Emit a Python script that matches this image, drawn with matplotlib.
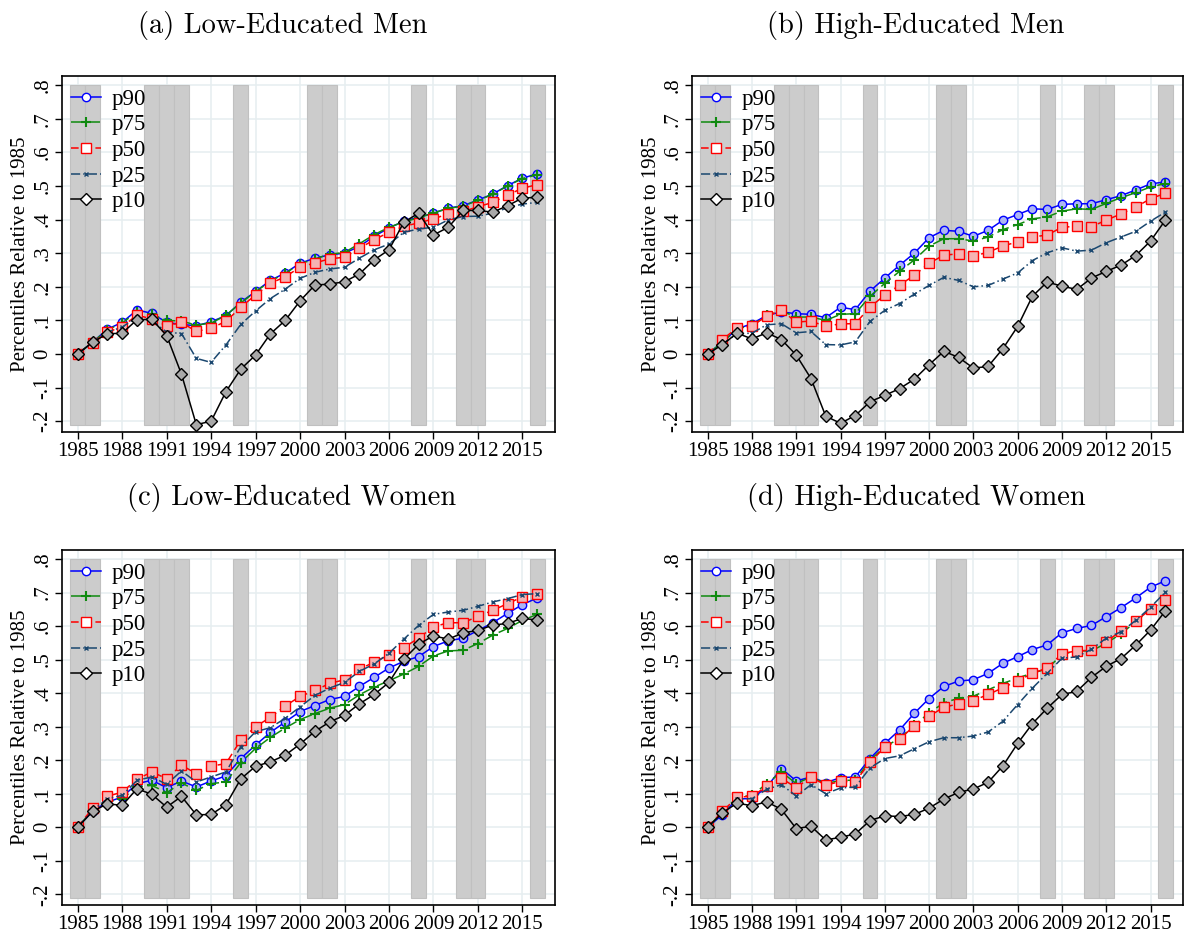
"""percentiles of log earnings relative to 1985, by education and gender"""
import numpy as np
import matplotlib
matplotlib.use("Agg")
import matplotlib.pyplot as plt
from matplotlib.lines import Line2D

plt.rcParams["font.family"] = ["Liberation Serif", "DejaVu Serif"]
plt.rcParams["axes.unicode_minus"] = False

years = np.arange(1985, 2017)
recession_years = [1985, 1986, 1990, 1991, 1992, 1996, 2001, 2002, 2008, 2011, 2012, 2016]

# (a) low-educated men
lm_p90 = [0, .035, .074, .094, .131, .121, .094, .088, .084, .096, .114, .154, .186, .219, .241, .270,
          .285, .295, .300, .320, .350, .375, .395, .407, .419, .434, .441, .458, .476, .501, .523, .536]
lm_p75 = [0, .035, .072, .092, .126, .118, .100, .098, .086, .092, .115, .152, .185, .217, .240, .268,
          .283, .297, .302, .328, .355, .377, .393, .405, .420, .433, .440, .457, .475, .500, .522, .533]
lm_p50 = [0, .033, .065, .081, .116, .104, .084, .094, .067, .077, .097, .139, .176, .210, .230, .258,
          .271, .283, .288, .314, .340, .362, .380, .390, .402, .417, .424, .438, .451, .473, .493, .504]
lm_p25 = [0, .035, .065, .080, .110, .100, .065, .061, -.013, -.025, .027, .088, .128, .165, .193, .225,
          .243, .253, .258, .285, .310, .327, .362, .372, .377, .399, .409, .410, .419, .435, .446, .451]
lm_p10 = [0, .035, .060, .062, .102, .103, .055, -.060, -.210, -.200, -.112, -.045, -.003, .060, .100, .158,
          .205, .208, .215, .238, .280, .310, .392, .419, .354, .377, .427, .427, .422, .441, .464, .466]

# (b) high-educated men
hm_p90 = [0, .035, .075, .090, .115, .125, .120, .118, .108, .139, .132, .187, .226, .264, .300, .346,
          .368, .365, .350, .368, .398, .415, .432, .430, .445, .447, .447, .459, .471, .488, .506, .512]
hm_p75 = [0, .035, .075, .085, .115, .128, .110, .110, .100, .118, .120, .172, .210, .246, .280, .321,
          .343, .343, .336, .348, .370, .385, .402, .408, .425, .432, .430, .448, .465, .480, .497, .507]
hm_p50 = [0, .043, .078, .083, .113, .130, .095, .098, .082, .090, .090, .140, .175, .205, .234, .270,
          .294, .298, .291, .303, .321, .334, .348, .354, .377, .380, .379, .398, .417, .437, .462, .478]
hm_p25 = [0, .030, .060, .062, .087, .090, .063, .067, .028, .027, .036, .097, .130, .150, .178, .204,
          .228, .219, .200, .204, .223, .241, .278, .301, .316, .306, .309, .331, .348, .365, .395, .422]
hm_p10 = [0, .028, .062, .045, .063, .043, -.003, -.073, -.185, -.206, -.183, -.142, -.123, -.103, -.075, -.032,
          .008, -.010, -.042, -.037, .016, .082, .172, .214, .202, .192, .226, .246, .264, .293, .336, .398]

# (c) low-educated women
lw_p90 = [0, .048, .075, .090, .130, .140, .118, .138, .120, .138, .153, .205, .245, .283, .314, .345,
          .363, .381, .390, .420, .447, .475, .495, .509, .539, .556, .564, .587, .610, .638, .664, .684]
lw_p75 = [0, .050, .075, .085, .120, .125, .103, .132, .110, .130, .135, .193, .235, .268, .296, .321,
          .339, .355, .366, .395, .418, .437, .457, .480, .511, .526, .528, .548, .573, .593, .617, .635]
lw_p50 = [0, .057, .092, .105, .143, .165, .145, .185, .160, .182, .190, .260, .300, .328, .362, .390,
          .408, .429, .440, .472, .492, .514, .536, .564, .598, .610, .610, .629, .647, .667, .687, .697]
lw_p25 = [0, .050, .085, .095, .140, .150, .128, .168, .135, .150, .165, .240, .285, .297, .325, .359,
          .393, .415, .432, .465, .487, .519, .561, .602, .635, .642, .647, .659, .672, .682, .694, .697]
lw_p10 = [0, .047, .070, .065, .115, .098, .060, .092, .037, .038, .067, .144, .182, .195, .215, .248,
          .286, .314, .334, .368, .396, .432, .501, .546, .571, .561, .580, .587, .603, .608, .623, .618]

# (d) high-educated women
hw_p90 = [0, .037, .085, .085, .120, .175, .138, .150, .133, .148, .150, .205, .250, .290, .340, .384,
          .420, .436, .440, .459, .489, .509, .530, .544, .580, .593, .602, .628, .655, .684, .716, .735]
hw_p75 = [0, .045, .090, .095, .130, .165, .130, .150, .130, .140, .140, .200, .240, .265, .304, .341,
          .371, .385, .391, .410, .429, .445, .460, .472, .516, .526, .526, .549, .577, .613, .650, .672]
hw_p50 = [0, .047, .090, .092, .122, .146, .118, .150, .125, .137, .135, .195, .238, .262, .303, .331,
          .358, .368, .378, .396, .416, .437, .459, .475, .518, .526, .528, .554, .585, .615, .650, .677]
hw_p25 = [0, .040, .085, .085, .113, .127, .093, .127, .100, .117, .120, .177, .205, .213, .234, .255,
          .267, .267, .272, .284, .316, .366, .415, .459, .504, .508, .531, .564, .583, .617, .656, .701]
hw_p10 = [0, .043, .072, .064, .076, .053, -.004, .003, -.038, -.030, -.020, .020, .034, .032, .038, .057,
          .084, .104, .114, .134, .183, .250, .309, .355, .396, .405, .447, .480, .503, .543, .588, .645]

panels = [
    ("(a) Low-Educated Men", [lm_p90, lm_p75, lm_p50, lm_p25, lm_p10]),
    ("(b) High-Educated Men", [hm_p90, hm_p75, hm_p50, hm_p25, hm_p10]),
    ("(c) Low-Educated Women", [lw_p90, lw_p75, lw_p50, lw_p25, lw_p10]),
    ("(d) High-Educated Women", [hw_p90, hw_p75, hw_p50, hw_p25, hw_p10]),
]
labels = ["p90", "p75", "p50", "p25", "p10"]

styles = [
    dict(color="#0000ff", ls="-", marker="o", ms=6, mfc="#adb5f5", mec="#0000ff", mew=1.0),
    dict(color="#108a10", ls=(0, (8, 3)), marker="+", ms=7, mfc="none", mec="#108a10", mew=1.5),
    dict(color="#ff0000", ls=(0, (5, 3)), marker="s", ms=6.5, mfc="#f5b3b3", mec="#ff0000", mew=1.0),
    dict(color="#1a476f", ls=(0, (6, 2, 1, 2)), marker="x", ms=3, mfc="none", mec="#1a476f", mew=1.0),
    dict(color="#000000", ls="-", marker="D", ms=6.5, mfc="#a8a8a8", mec="#000000", mew=1.0),
]

W, H = 1184, 932
# pixel boxes: left, right, top, bottom
boxes = [(62, 555, 76, 432), (692, 1183, 76, 432), (62, 555, 550, 905), (692, 1183, 550, 905)]
title_pos = [(283, 25), (916, 25), (292, 498), (916, 498)]

fig = plt.figure(figsize=(W / 100, H / 100), dpi=100)

for (title, series), (l, r, t, b), (tx, ty) in zip(panels, boxes, title_pos):
    ax = fig.add_axes([l / W, 1 - b / H, (r - l) / W, (b - t) / H])
    ax.bar(recession_years, 1.01, width=1, bottom=-.21, color="#cccccc",
           edgecolor="#c0c0c0", linewidth=.8, zorder=1)
    for vals, lab, st in zip(series, labels, styles):
        ax.plot(years, vals, lw=1.1, zorder=3, label=lab, **st)
    ax.set_xlim(1983.94, 2017.2)
    ax.set_ylim(-.232, .827)
    ax.set_xticks(range(1985, 2016, 3))
    ax.set_yticks(np.arange(-.2, .81, .1))
    ax.set_yticklabels(["-.2", "-.1", "0", ".1", ".2", ".3", ".4", ".5", ".6", ".7", ".8"],
                       rotation=90, va="center")
    ax.tick_params(labelsize=15, direction="out", length=5, width=1, pad=2)
    ax.grid(True, color="#e6eef0", lw=1.1, zorder=0)
    ax.set_axisbelow(True)
    for s in ax.spines.values():
        s.set_linewidth(1.2)
    ax.set_ylabel("Percentiles Relative to 1985", fontsize=15, labelpad=2)

    handles = [Line2D([], [], lw=1.1, **dict(st, mfc="white")) for st in styles]
    ax.legend(handles, labels, loc="upper left", bbox_to_anchor=(0, .99),
              frameon=False, fontsize=16.5, handlelength=1.3, labelspacing=.2,
              borderpad=.2, borderaxespad=.2, handletextpad=.45)

    fig.text(tx / W, 1 - ty / H, title, family="cmr10", fontsize=20.5,
             ha="center", va="center")

plt.savefig("out.png", dpi=100)
plt.close()
